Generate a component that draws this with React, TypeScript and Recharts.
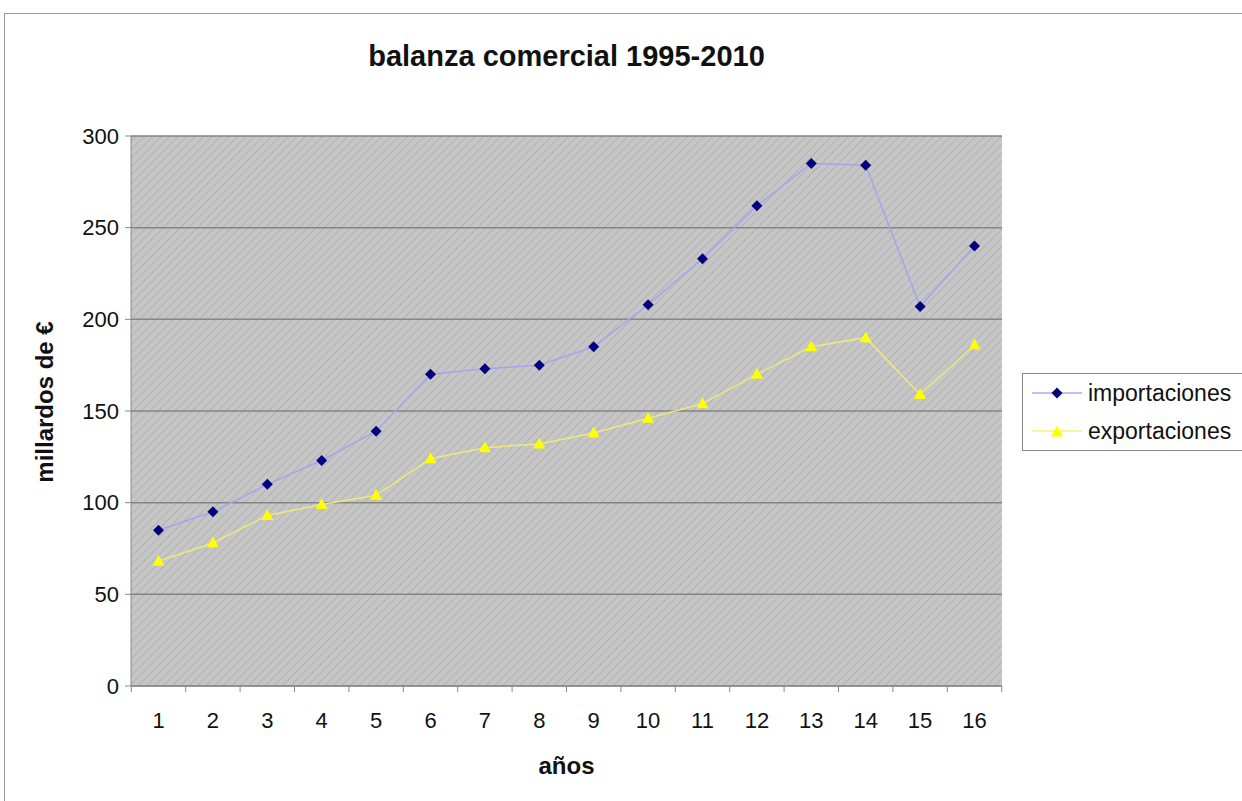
import { CartesianGrid, Line, LineChart, XAxis, YAxis } from 'recharts';

// balanza comercial 1995-2010 — importaciones vs exportaciones (millardos de €)
const years = ['1', '2', '3', '4', '5', '6', '7', '8', '9', '10', '11', '12', '13', '14', '15', '16'];
const importaciones = [85, 95, 110, 123, 139, 170, 173, 175, 185, 208, 233, 262, 285, 284, 207, 240];
const exportaciones = [68, 78, 93, 99, 104, 124, 130, 132, 138, 146, 154, 170, 185, 190, 159, 186];
const yTicks = [0, 50, 100, 150, 200, 250, 300];

const FONT = '"Liberation Sans", Arial, Helvetica, sans-serif';
const W = 1242;
const H = 801;
const MARGIN = { top: 136, right: 240, bottom: 0, left: 0 };
const PAD = 27.5;
const STEP = (W - MARGIN.right - 131 - 2 * PAD) / (years.length - 1);

const rows = years.map((year, i) => ({
  year,
  importaciones: importaciones[i],
  exportaciones: exportaciones[i]
}));

function Diamond({ cx, cy }: { cx?: number; cy?: number }) {
  if (cx == null || cy == null) return null;
  return <path d={`M${cx},${cy - 5.5}L${cx + 5.5},${cy}L${cx},${cy + 5.5}L${cx - 5.5},${cy}Z`} fill='#000080' />;
}

function Triangle({ cx, cy }: { cx?: number; cy?: number }) {
  if (cx == null || cy == null) return null;
  return <path d={`M${cx},${cy - 6.5}L${cx + 6},${cy + 4.5}L${cx - 6},${cy + 4.5}Z`} fill='#ffff00' />;
}

function XTick(props: any) {
  const { x, y, payload, index } = props;
  const half = STEP / 2;
  return (
    <g>
      <line x1={x - half} x2={x - half} y1={y} y2={y + 6} stroke='#888' />
      {index === years.length - 1 ? (
        <line x1={x + half} x2={x + half} y1={y} y2={y + 6} stroke='#888' />
      ) : null}
      <text x={x} y={y + 42} textAnchor='middle' fontSize={22} fontFamily={FONT} fill='#111'>
        {payload.value}
      </text>
    </g>
  );
}

function LegendBox() {
  const item = (label: string, line: string, marker: any) => (
    <div style={{ display: 'flex', alignItems: 'center', height: 38 }}>
      <svg width={56} height={20} style={{ marginLeft: 9 }}>
        <line x1={0} x2={50} y1={10} y2={10} stroke={line} strokeWidth={1.5} />
        {marker}
      </svg>
      <span style={{ fontSize: 23, fontFamily: FONT, color: '#111' }}>{label}</span>
    </div>
  );
  return (
    <div
      style={{
        position: 'absolute',
        left: 1022,
        top: 373,
        border: '1px solid #888',
        borderRight: 'none',
        width: 230,
        height: 78,
        boxSizing: 'border-box',
        background: '#fff'
      }}
    >
      {item('importaciones', '#b0a8f0', <Diamond cx={25} cy={10} />)}
      {item('exportaciones', '#f4f080', <Triangle cx={25} cy={11} />)}
    </div>
  );
}

export default function App() {
  return (
    <div style={{ position: 'absolute', left: 0, top: 0, width: W, height: H, background: '#fff', overflow: 'hidden' }}>
      <div
        style={{
          position: 'absolute',
          left: 4,
          top: 13,
          right: -2,
          bottom: -2,
          borderTop: '1.5px solid #999',
          borderLeft: '1.5px solid #999'
        }}
      />
      <div
        style={{
          position: 'absolute',
          left: 131,
          width: 871,
          top: 40,
          textAlign: 'center',
          fontFamily: FONT,
          fontWeight: 'bold',
          fontSize: 29,
          color: '#111'
        }}
      >
        balanza comercial 1995-2010
      </div>
      <LineChart width={W} height={H} data={rows} margin={MARGIN} style={{ position: 'absolute', left: 0, top: 0 }}>
        <defs>
          <pattern id='hatch' width={6} height={6} patternUnits='userSpaceOnUse' patternTransform='rotate(45)'>
            <rect width={6} height={6} fill='#c6c6c6' />
            <line x1={0} y1={0} x2={0} y2={6} stroke='#b2b2b2' strokeWidth={2} />
          </pattern>
        </defs>
        <CartesianGrid vertical={false} fill='url(#hatch)' stroke='#858585' strokeWidth={1.5} />
        <XAxis
          dataKey='year'
          padding={{ left: PAD, right: PAD }}
          height={115}
          tickLine={false}
          tickSize={0}
          tickMargin={0}
          axisLine={{ stroke: '#888' }}
          tick={<XTick />}
          interval={0}
          label={{
            value: 'años',
            position: 'insideBottom',
            offset: 27,
            style: { fontFamily: FONT, fontWeight: 'bold', fontSize: 24, fill: '#111' }
          }}
        />
        <YAxis
          domain={[0, 300]}
          ticks={yTicks}
          width={131}
          tickSize={6}
          tickMargin={6}
          tickLine={{ stroke: '#888' }}
          axisLine={{ stroke: '#888' }}
          tick={{ fontFamily: FONT, fontSize: 22, fill: '#111' }}
          interval={0}
          label={{
            value: 'millardos de €',
            angle: -90,
            position: 'insideLeft',
            offset: 44,
            dy: -9,
            style: { fontFamily: FONT, fontWeight: 'bold', fontSize: 24, fill: '#111', textAnchor: 'middle' }
          }}
        />
        <Line
          type='linear'
          dataKey='importaciones'
          stroke='#a9a2ee'
          strokeWidth={1.5}
          dot={<Diamond />}
          activeDot={false}
          isAnimationActive={false}
        />
        <Line
          type='linear'
          dataKey='exportaciones'
          stroke='#eeea78'
          strokeWidth={1.5}
          dot={<Triangle />}
          activeDot={false}
          isAnimationActive={false}
        />
      </LineChart>
      <LegendBox />
    </div>
  );
}
